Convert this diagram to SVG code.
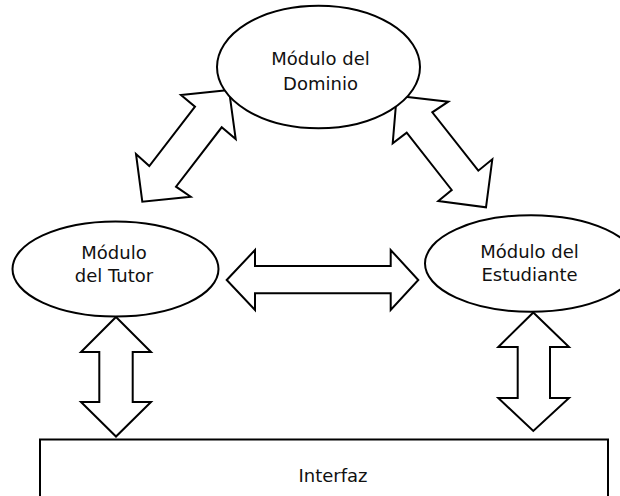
<svg xmlns="http://www.w3.org/2000/svg" width="620" height="496" viewBox="0 0 620 496">
<style>
.shape{fill:#fff;stroke:#000;stroke-width:2;stroke-linejoin:miter}
.lbl{font-family:"DejaVu Sans",Verdana,sans-serif;font-size:18px;fill:#111;text-anchor:middle}
</style>
<rect width="620" height="496" fill="#fff"/>
<g id="connectors">
<polygon class="shape" points="229,90 181,95 195,106.7 149.3,166 136,154 142.3,201.7 190.7,196.7 176,186.7 221.7,127.3 235.7,139"/>
<polygon class="shape" points="396.7,95.7 448.3,101.7 432.3,112.3 478.3,170.7 492.3,159.3 486,207.3 438.3,201 451.7,190 406.7,132.7 392.7,143.3"/>
<polygon class="shape" points="226.7,280 255,250 255,266 390.7,266 390.7,250 418.3,280 390.7,310 390.7,293.3 255,293.3 255,310"/>
<polygon class="shape" points="116,317 151,352 132.7,352 132.7,402 151,402 116,436.5 81,402 99.3,402 99.3,352 81,352"/>
<polygon class="shape" points="533.3,312.5 569,347 550,347 550,398 569,398 533.3,431 498.3,398 517.7,398 517.7,347 498.3,347"/>
</g>
<g id="dominio">
<ellipse class="shape" cx="318.5" cy="67" rx="101.5" ry="61.3"/>
<text class="lbl" x="320.5" y="65">Módulo del</text>
<text class="lbl" x="320.5" y="89.5">Dominio</text>
</g>
<g id="tutor">
<ellipse class="shape" cx="115.5" cy="269" rx="103" ry="47.5"/>
<text class="lbl" x="114" y="258.5">Módulo</text>
<text class="lbl" x="114" y="281.5">del Tutor</text>
</g>
<g id="estudiante">
<ellipse class="shape" cx="531" cy="263.5" rx="106" ry="48.3"/>
<text class="lbl" x="529.5" y="257.5">Módulo del</text>
<text class="lbl" x="529.5" y="281">Estudiante</text>
</g>
<g id="interfaz">
<rect class="shape" x="40" y="439.5" width="568" height="80"/>
<text class="lbl" x="333" y="482">Interfaz</text>
</g>
</svg>
